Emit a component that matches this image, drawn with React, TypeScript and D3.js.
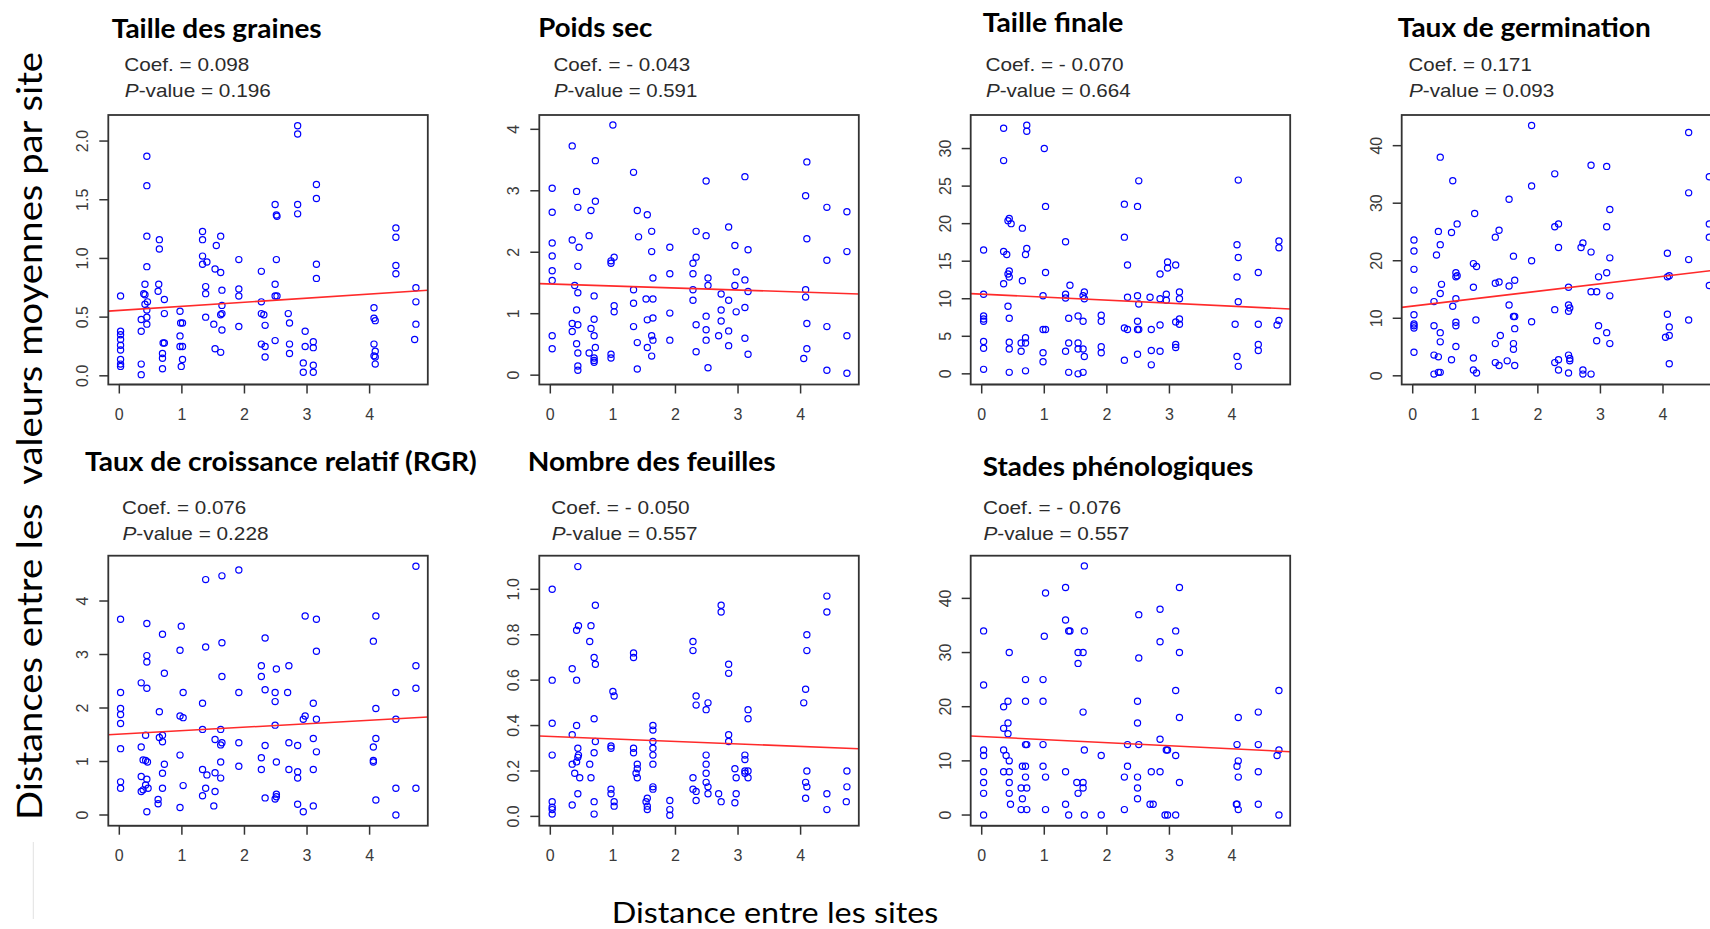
import * as d3 from "d3";

type Pt = [number, number];

// distances entre sites (x) / distances entre valeurs moyennes (y)
const grainesPts: Pt[] = [
  [0.02,0.68],[0.02,0.38],[0.02,0.35],[0.02,0.31],[0.02,0.26],[0.02,0.22],[0.02,0.14],[0.02,0.10],[0.02,0.08],
  [0.35,0.48],[0.35,0.38],[0.35,0.10],[0.35,0.01],
  [0.44,1.87],[0.44,1.62],[0.44,1.19],[0.44,0.93],[0.41,0.78],[0.39,0.70],[0.41,0.69],[0.45,0.63],[0.41,0.61],[0.44,0.56],[0.44,0.50],[0.44,0.44],
  [0.64,1.16],[0.64,1.08],[0.63,0.78],[0.62,0.72],
  [0.72,0.65],[0.72,0.53],[0.70,0.28],[0.72,0.28],[0.69,0.19],[0.69,0.15],[0.69,0.06],
  [0.97,0.55],[0.98,0.45],[1.01,0.45],[0.97,0.34],[0.97,0.25],[1.01,0.25],[1.01,0.14],[0.99,0.08],
  [1.33,1.23],[1.33,1.16],[1.33,1.02],[1.33,0.95],[1.40,0.97],[1.38,0.76],[1.38,0.70],[1.38,0.50],
  [1.55,1.11],[1.53,0.91],[1.51,0.44],[1.53,0.23],
  [1.62,1.19],[1.62,0.88],[1.64,0.73],[1.64,0.60],[1.64,0.53],[1.62,0.52],[1.64,0.39],[1.62,0.20],
  [1.91,0.99],[1.91,0.74],[1.91,0.68],[1.91,0.42],
  [2.27,0.89],[2.27,0.63],[2.27,0.53],[2.31,0.52],[2.33,0.43],[2.27,0.27],[2.33,0.25],[2.33,0.16],
  [2.49,1.46],[2.51,1.37],[2.52,1.36],[2.51,0.99],[2.49,0.78],[2.49,0.68],[2.52,0.68],[2.49,0.30],
  [2.70,0.53],[2.72,0.45],[2.72,0.27],[2.72,0.19],
  [2.85,2.13],[2.85,2.06],[2.85,1.46],[2.85,1.38],
  [2.97,0.38],[2.97,0.25],[2.94,0.11],[2.94,0.03],
  [3.15,1.63],[3.15,1.51],[3.15,0.95],[3.15,0.83],[3.10,0.29],[3.10,0.24],[3.10,0.09],[3.10,0.03],
  [4.07,0.58],[4.07,0.49],[4.09,0.47],[4.07,0.27],[4.09,0.21],[4.07,0.17],[4.09,0.16],[4.09,0.10],
  [4.42,1.26],[4.42,1.18],[4.42,0.94],[4.42,0.87],
  [4.74,0.75],[4.74,0.63],[4.74,0.44],[4.72,0.31],
];

const poidsPts: Pt[] = [
  [0.03,3.04],[0.03,2.65],[0.03,2.15],[0.03,1.94],[0.03,1.70],[0.03,1.54],[0.03,0.64],[0.03,0.43],
  [0.35,3.73],[0.35,2.20],[0.35,0.84],[0.35,0.71],
  [0.42,2.99],[0.44,2.73],[0.46,2.08],[0.44,1.77],[0.39,1.46],[0.44,1.34],[0.42,1.06],[0.44,0.82],[0.42,0.51],[0.44,0.36],[0.44,0.15],[0.44,0.08],
  [0.72,3.49],[0.72,2.83],[0.65,2.68],[0.62,2.27],[0.70,1.29],[0.70,0.91],[0.65,0.76],[0.70,0.64],[0.72,0.45],[0.62,0.36],[0.70,0.28],[0.70,0.24],[0.70,0.21],
  [1.00,4.07],[0.97,1.82],[1.02,1.92],[0.97,1.86],[1.02,1.13],[1.02,1.03],[0.97,0.34],[0.97,0.28],
  [1.33,3.30],[1.39,2.68],[1.41,2.25],[1.33,1.39],[1.33,1.17],[1.33,0.79],[1.39,0.53],[1.39,0.10],
  [1.55,2.61],[1.62,2.34],[1.62,2.01],[1.64,1.58],[1.53,1.24],[1.64,1.24],[1.55,0.90],[1.64,0.93],[1.62,0.64],[1.64,0.57],[1.55,0.45],[1.62,0.31],
  [1.91,2.08],[1.91,1.65],[1.91,1.01],[1.91,0.57],
  [2.33,2.34],[2.33,1.92],[2.28,1.82],[2.28,1.65],[2.28,1.39],[2.28,1.22],[2.33,0.82],[2.33,0.38],
  [2.49,3.16],[2.49,2.27],[2.52,1.58],[2.52,1.46],[2.49,0.96],[2.49,0.74],[2.49,0.57],[2.52,0.12],
  [2.73,1.32],[2.73,1.06],[2.73,0.88],[2.69,0.64],
  [2.85,2.41],[2.85,1.22],[2.85,0.72],[2.85,0.48],
  [2.95,2.11],[2.97,1.68],[2.95,1.46],[2.97,1.03],
  [3.11,3.23],[3.16,2.04],[3.11,1.55],[3.16,1.36],[3.11,1.10],[3.11,0.60],[3.16,0.34],
  [4.10,3.47],[4.08,2.92],[4.10,2.22],[4.08,1.39],[4.08,1.27],[4.10,0.84],[4.10,0.43],[4.05,0.27],
  [4.42,2.73],[4.42,1.87],[4.42,0.79],[4.42,0.08],
  [4.74,2.66],[4.74,2.01],[4.74,0.64],[4.74,0.03],
];

const tailleFinalePts: Pt[] = [
  [0.03,16.5],[0.03,10.6],[0.03,7.7],[0.03,7.3],[0.03,7.0],[0.03,4.3],[0.03,3.4],[0.03,0.6],
  [0.35,32.7],[0.35,28.4],[0.35,16.3],[0.35,12.0],
  [0.40,15.9],[0.44,20.7],[0.42,20.4],[0.47,20.0],[0.44,13.7],[0.42,13.3],[0.44,12.9],[0.42,9.0],[0.44,7.4],[0.44,4.2],[0.44,3.3],[0.44,0.2],
  [0.72,33.1],[0.72,32.3],[0.65,19.4],[0.72,16.7],[0.70,15.9],[0.65,12.4],[0.70,4.8],[0.70,4.1],[0.63,4.1],[0.63,3.0],[0.70,0.4],
  [1.00,30.0],[1.02,22.3],[1.02,13.5],[0.98,10.4],[0.98,5.9],[1.02,5.9],[0.98,2.8],[0.98,1.6],
  [1.34,17.6],[1.41,11.8],[1.34,10.6],[1.34,10.1],[1.39,7.4],[1.39,4.1],[1.34,3.0],[1.39,0.2],
  [1.54,7.7],[1.54,4.1],[1.54,3.3],[1.62,7.0],[1.64,10.9],[1.62,10.4],[1.64,10.0],[1.62,3.3],[1.64,2.3],[1.54,0.0],[1.62,0.2],
  [1.91,7.8],[1.91,7.0],[1.91,3.6],[1.91,2.8],
  [2.28,22.6],[2.28,18.2],[2.33,14.5],[2.33,10.2],[2.28,6.1],[2.33,5.9],[2.28,1.8],
  [2.51,25.7],[2.49,22.3],[2.49,10.4],[2.51,9.3],[2.49,7.0],[2.49,5.9],[2.51,5.9],[2.49,2.6],
  [2.69,10.2],[2.71,5.9],[2.71,3.1],[2.71,1.2],
  [2.85,13.3],[2.85,10.0],[2.85,6.5],[2.85,3.0],
  [2.97,14.9],[2.97,14.1],[2.95,10.6],[2.95,9.8],
  [3.10,14.5],[3.16,10.9],[3.16,10.0],[3.16,7.3],[3.10,6.9],[3.16,6.6],[3.10,3.9],[3.10,3.5],
  [4.10,25.8],[4.08,17.2],[4.10,15.5],[4.08,12.9],[4.10,9.6],[4.05,6.6],[4.08,2.3],[4.10,1.0],
  [4.42,13.5],[4.42,6.6],[4.42,3.9],[4.42,3.1],
  [4.75,17.7],[4.75,16.8],[4.75,7.1],[4.72,6.5],
];

const germinationPts: Pt[] = [
  [0.02,23.6],[0.02,21.7],[0.02,18.5],[0.02,14.9],[0.02,10.6],[0.02,9.0],[0.02,8.7],[0.02,8.3],[0.02,4.1],
  [0.34,12.9],[0.34,8.7],[0.34,3.6],[0.34,0.3],
  [0.44,38.0],[0.41,25.1],[0.44,22.8],[0.38,21.0],[0.46,15.9],[0.44,14.3],[0.44,7.5],[0.44,5.9],[0.41,3.3],[0.41,0.6],[0.44,0.6],
  [0.64,33.9],[0.62,24.9],[0.71,26.4],[0.69,17.9],[0.71,17.4],[0.69,17.2],[0.69,13.4],[0.64,12.1],[0.69,9.3],[0.69,8.7],[0.69,5.1],[0.62,2.8],
  [0.99,28.2],[0.97,19.5],[1.02,19.0],[0.97,15.4],[1.01,9.7],[0.97,3.1],[0.97,1.0],[1.02,0.5],
  [1.38,25.3],[1.32,24.1],[1.32,16.1],[1.38,16.3],[1.40,7.0],[1.32,5.6],[1.32,2.3],[1.38,1.8],
  [1.54,30.7],[1.61,20.8],[1.63,16.6],[1.54,15.6],[1.54,12.3],[1.61,10.3],[1.63,10.3],[1.63,8.2],[1.61,5.6],[1.61,4.6],[1.51,2.6],[1.63,1.8],
  [1.90,43.5],[1.90,33.0],[1.90,20.0],[1.90,9.4],
  [2.27,35.1],[2.27,25.9],[2.33,26.4],[2.33,22.3],[2.27,11.5],[2.27,2.3],[2.33,2.8],[2.33,1.0],
  [2.49,15.4],[2.49,12.3],[2.51,11.8],[2.49,11.2],[2.49,3.6],[2.51,3.0],[2.51,2.6],[2.49,0.5],
  [2.72,23.1],[2.69,22.3],[2.72,1.0],[2.72,0.3],
  [2.85,36.6],[2.85,21.5],[2.85,14.6],[2.85,0.3],
  [2.97,17.2],[2.94,14.6],[2.97,8.7],[2.94,6.1],
  [3.10,36.4],[3.15,28.9],[3.10,25.9],[3.15,20.5],[3.10,17.9],[3.15,13.9],[3.10,7.5],[3.15,5.6],
  [4.07,21.3],[4.10,17.4],[4.07,17.2],[4.07,10.7],[4.10,8.5],[4.04,6.7],[4.10,7.0],[4.10,2.1],
  [4.41,42.3],[4.41,31.8],[4.41,20.2],[4.41,9.7],
  [4.74,34.6],[4.74,26.4],[4.74,24.1],[4.74,15.7],
];

const rgrPts: Pt[] = [
  [0.02,3.66],[0.02,2.29],[0.02,1.99],[0.02,1.88],[0.02,1.71],[0.02,1.24],[0.02,0.62],[0.02,0.50],
  [0.35,2.47],[0.35,1.27],[0.35,0.72],[0.35,0.44],
  [0.44,3.58],[0.44,2.98],[0.44,2.86],[0.44,2.37],[0.42,1.49],[0.38,1.03],[0.42,1.02],[0.45,0.99],[0.44,0.67],[0.42,0.56],[0.46,0.50],[0.38,0.47],[0.44,0.06],
  [0.69,3.38],[0.72,2.65],[0.64,1.93],[0.64,1.45],[0.69,1.49],[0.69,1.37],[0.72,0.95],[0.69,0.78],[0.69,0.50],[0.62,0.29],[0.62,0.21],
  [0.99,3.53],[0.97,3.08],[1.02,2.29],[0.97,1.85],[1.02,1.82],[0.97,1.12],[1.02,0.55],[0.97,0.14],
  [1.38,4.40],[1.38,3.14],[1.33,2.09],[1.33,1.60],[1.33,0.85],[1.40,0.75],[1.38,0.50],[1.33,0.36],
  [1.64,4.47],[1.64,3.22],[1.64,2.59],[1.62,1.60],[1.53,1.41],[1.64,1.35],[1.62,1.31],[1.62,0.99],[1.53,0.79],[1.62,0.69],[1.53,0.44],[1.51,0.17],
  [1.91,4.58],[1.91,2.29],[1.91,1.35],[1.91,0.91],
  [2.33,3.31],[2.27,2.79],[2.27,2.59],[2.33,2.34],[2.33,1.30],[2.27,1.07],[2.27,0.85],[2.33,0.32],
  [2.51,2.73],[2.49,2.29],[2.49,2.12],[2.49,1.68],[2.51,0.99],[2.51,0.39],[2.49,0.30],[2.51,0.34],
  [2.71,2.79],[2.69,2.29],[2.71,1.35],[2.71,0.85],
  [2.85,1.30],[2.85,0.81],[2.85,0.69],[2.85,0.20],
  [2.97,3.72],[2.97,1.85],[2.94,1.79],[2.94,0.06],
  [3.15,3.66],[3.15,3.06],[3.10,2.09],[3.15,1.79],[3.10,1.43],[3.15,1.18],[3.10,0.85],[3.10,0.17],
  [4.10,3.72],[4.06,3.25],[4.10,1.99],[4.10,1.43],[4.06,1.27],[4.06,1.02],[4.06,0.99],[4.10,0.28],
  [4.42,2.29],[4.42,1.79],[4.42,0.50],[4.42,0.00],
  [4.74,4.65],[4.74,2.79],[4.74,2.37],[4.74,0.50],
];

const feuillesPts: Pt[] = [
  [0.03,1.00],[0.03,0.60],[0.03,0.41],[0.03,0.27],[0.03,0.065],[0.03,0.04],[0.03,0.03],[0.03,0.01],
  [0.35,0.65],[0.35,0.36],[0.35,0.23],[0.35,0.05],
  [0.44,1.10],[0.45,0.84],[0.42,0.82],[0.42,0.60],[0.42,0.40],[0.44,0.30],[0.45,0.27],[0.44,0.26],[0.42,0.24],[0.39,0.19],[0.47,0.17],[0.44,0.10],
  [0.72,0.93],[0.65,0.84],[0.63,0.77],[0.70,0.70],[0.72,0.67],[0.70,0.43],[0.72,0.33],[0.70,0.28],[0.63,0.23],[0.65,0.17],[0.70,0.065],[0.70,0.01],
  [1.00,0.55],[1.02,0.53],[0.97,0.31],[0.97,0.30],[0.97,0.12],[0.97,0.10],[1.02,0.065],[1.02,0.045],
  [1.33,0.72],[1.33,0.70],[1.33,0.30],[1.33,0.28],[1.39,0.23],[1.39,0.21],[1.37,0.19],[1.39,0.17],
  [1.64,0.40],[1.64,0.38],[1.64,0.33],[1.64,0.30],[1.64,0.27],[1.64,0.23],[1.64,0.13],[1.64,0.12],[1.55,0.08],[1.53,0.065],[1.55,0.045],[1.55,0.03],
  [1.91,0.07],[1.91,0.03],[1.91,0.005],
  [2.28,0.77],[2.28,0.73],[2.33,0.53],[2.33,0.49],[2.28,0.17],[2.28,0.12],[2.33,0.11],[2.33,0.07],
  [2.52,0.50],[2.49,0.47],[2.49,0.27],[2.49,0.23],[2.49,0.19],[2.49,0.15],[2.52,0.13],[2.52,0.10],
  [2.73,0.93],[2.73,0.90],[2.69,0.10],[2.73,0.065],
  [2.85,0.67],[2.85,0.63],[2.85,0.36],[2.85,0.33],
  [2.95,0.21],[2.97,0.17],[2.97,0.10],[2.95,0.06],
  [3.16,0.47],[3.16,0.43],[3.11,0.27],[3.11,0.25],[3.11,0.20],[3.16,0.20],[3.11,0.19],[3.16,0.17],
  [4.10,0.80],[4.10,0.73],[4.08,0.56],[4.05,0.50],[4.10,0.20],[4.08,0.15],[4.10,0.13],[4.08,0.08],
  [4.42,0.97],[4.42,0.90],[4.42,0.10],[4.42,0.03],
  [4.74,0.20],[4.74,0.13],[4.73,0.065],
];

const phenoPts: Pt[] = [
  [0.03,34],[0.03,24],[0.03,12],[0.03,11],[0.03,8],[0.03,6],[0.03,4],[0.03,0],
  [0.35,20],[0.35,16],[0.35,12],[0.35,8],
  [0.44,30],[0.42,21],[0.42,17],[0.42,15],[0.39,11],[0.44,10],[0.44,8],[0.44,6],[0.44,4],[0.46,2],
  [0.70,25],[0.70,21],[0.70,13],[0.72,13],[0.65,9],[0.70,9],[0.70,7],[0.63,5],[0.72,5],[0.65,3],[0.63,1],[0.72,1],
  [1.02,41],[1.00,33],[0.98,25],[0.98,21],[0.98,13],[0.98,9],[1.02,7],[1.02,1],
  [1.34,42],[1.34,36],[1.39,34],[1.41,34],[1.34,8],[1.34,2],[1.39,0],
  [1.64,46],[1.64,34],[1.54,30],[1.62,30],[1.54,28],[1.62,19],[1.64,12],[1.52,6],[1.62,6],[1.62,5],[1.54,4],[1.64,0],
  [1.91,11],[1.91,0],
  [2.33,13],[2.33,9],[2.28,7],[2.28,1],
  [2.51,37],[2.51,29],[2.49,21],[2.49,17],[2.51,13],[2.49,7],[2.49,5],[2.49,3],
  [2.69,2],[2.74,2],[2.71,8],
  [2.85,38],[2.85,32],[2.85,14],[2.85,8],
  [2.95,12],[2.97,12],[2.93,0],[2.97,0],
  [3.16,42],[3.10,34],[3.16,30],[3.10,23],[3.16,18],[3.10,11],[3.16,6],[3.10,0],
  [4.10,18],[4.08,13],[4.10,10],[4.08,9],[4.10,7],[4.07,2],[4.08,2],[4.10,1],
  [4.42,19],[4.42,13],[4.42,8],[4.42,2],
  [4.75,23],[4.75,12],[4.72,11],[4.75,0],
];

const series = [grainesPts, poidsPts, tailleFinalePts, germinationPts, rgrPts, feuillesPts, phenoPts];

const titres = [
  "Taille des graines",
  "Poids sec",
  "Taille finale",
  "Taux de germination",
  "Taux de croissance relatif (RGR)",
  "Nombre des feuilles",
  "Stades phénologiques",
];
const coefs = ["0.098", "- 0.043", "- 0.070", "0.171", "0.076", "- 0.050", "- 0.076"];
const pValues = ["0.196", "0.591", "0.664", "0.093", "0.228", "0.557", "0.557"];

// droite de régression : [ordonnée à l'origine, pente]
const droites: [number, number][] = [
  [0.557, 0.035],
  [1.484, -0.033],
  [10.61, -0.4],
  [12.12, 1.29],
  [1.511, 0.065],
  [0.352, -0.011],
  [14.5, -0.57],
];

const xDomaine: [number, number] = [-0.176, 4.93];
const xTicks = [0, 1, 2, 3, 4];
const yDomaines: [number, number][] = [
  [-0.074, 2.222],
  [-0.152, 4.233],
  [-1.42, 34.47],
  [-1.51, 45.33],
  [-0.2, 4.847],
  [-0.041, 1.148],
  [-1.97, 47.88],
];
const yTicks = [
  [0, 0.5, 1, 1.5, 2],
  [0, 1, 2, 3, 4],
  [0, 5, 10, 15, 20, 25, 30],
  [0, 10, 20, 30, 40],
  [0, 1, 2, 3, 4],
  [0, 0.2, 0.4, 0.6, 0.8, 1],
  [0, 10, 20, 30, 40],
];
const yFormats = [".1f", "d", "d", "d", "d", ".1f", "d"];

// mise en page (pixels)
const boites = [
  { x: 108.3, y: 115, w: 319.5, h: 269.5 },
  { x: 539.3, y: 115, w: 319.5, h: 269.5 },
  { x: 970.7, y: 115, w: 319.5, h: 269.5 },
  { x: 1401.7, y: 115, w: 319.5, h: 269.5 },
  { x: 108.3, y: 555.7, w: 319.5, h: 270 },
  { x: 539.3, y: 555.7, w: 319.5, h: 270 },
  { x: 970.7, y: 555.7, w: 319.5, h: 270 },
];
const titrePos = [
  { x: 111.7, y: 37.7, w: 210 },
  { x: 538.3, y: 37.3, w: 114 },
  { x: 982.7, y: 32.3, w: 140.7 },
  { x: 1397.7, y: 37.3, w: 253 },
  { x: 85, y: 470.7, w: 391.7 },
  { x: 527.7, y: 470.7, w: 248 },
  { x: 982.7, y: 475.7, w: 270.7 },
];
const statPos = [
  { x: 124.3, y: 71, wc: 125, wp: 146 },
  { x: 553.5, y: 71, wc: 136.7, wp: 143.3 },
  { x: 985.5, y: 71, wc: 138, wp: 144.7 },
  { x: 1408.5, y: 71, wc: 123.3, wp: 145.3 },
  { x: 122, y: 514, wc: 124.3, wp: 146 },
  { x: 551.3, y: 514, wc: 138.3, wp: 145.7 },
  { x: 983, y: 514, wc: 138, wp: 145.7 },
];

const AXE = "#333333";
const POLICE_R = "'Liberation Sans', Arial, sans-serif";

function Panneau({ i }: { i: number }) {
  const b = boites[i];
  const x = d3.scaleLinear().domain(xDomaine).range([b.x, b.x + b.w]);
  const y = d3.scaleLinear().domain(yDomaines[i]).range([b.y + b.h, b.y]);
  const fmt = d3.format(yFormats[i]);
  const [a, pente] = droites[i];
  const ligne = d3
    .line<number>()
    .x((d) => x(d))
    .y((d) => y(a + pente * d));
  const bas = b.y + b.h;
  const t = titrePos[i];
  const s = statPos[i];

  return (
    <g>
      {/* titre */}
      <text
        x={t.x}
        y={t.y}
        textLength={t.w}
        lengthAdjust="spacingAndGlyphs"
        fontFamily="Lato, 'Noto Sans', sans-serif"
        fontWeight={700}
        fontSize={26}
        fill="#000"
      >
        {titres[i]}
      </text>
      <text
        x={s.x}
        y={s.y}
        textLength={s.wc}
        lengthAdjust="spacingAndGlyphs"
        fontFamily={POLICE_R}
        fontSize={19}
        fill="#2b2b2b"
      >
        {`Coef. = ${coefs[i]}`}
      </text>
      <text
        x={s.x + 0.5}
        y={s.y + 25.7}
        textLength={s.wp}
        lengthAdjust="spacingAndGlyphs"
        fontFamily={POLICE_R}
        fontSize={19}
        fill="#2b2b2b"
      >
        <tspan fontStyle="italic">P</tspan>
        {`-value = ${pValues[i]}`}
      </text>

      {/* axe x */}
      <line x1={x(xTicks[0])} x2={x(xTicks[xTicks.length - 1])} y1={bas} y2={bas} stroke={AXE} strokeWidth={1.5} />
      {xTicks.map((v) => (
        <g key={`x${v}`}>
          <line x1={x(v)} x2={x(v)} y1={bas} y2={bas + 9} stroke={AXE} strokeWidth={1.5} />
          <text
            x={x(v)}
            y={bas + 35}
            textAnchor="middle"
            fontFamily={POLICE_R}
            fontSize={16}
            fill="#3a3a3a"
          >
            {v}
          </text>
        </g>
      ))}

      {/* axe y */}
      {yTicks[i].map((v) => (
        <g key={`y${v}`}>
          <line x1={b.x - 9} x2={b.x} y1={y(v)} y2={y(v)} stroke={AXE} strokeWidth={1.5} />
          <text
            x={b.x - 20}
            y={y(v)}
            textAnchor="middle"
            transform={`rotate(-90, ${b.x - 20}, ${y(v)})`}
            fontFamily={POLICE_R}
            fontSize={16}
            fill="#3a3a3a"
          >
            {fmt(v)}
          </text>
        </g>
      ))}

      {/* points */}
      {series[i].map(([px, py], k) => (
        <circle
          key={k}
          cx={x(px)}
          cy={y(py)}
          r={3.1}
          fill="none"
          stroke="#0000ff"
          strokeWidth={1.2}
        />
      ))}

      {/* régression */}
      <path d={ligne(xDomaine) || ""} fill="none" stroke="#ff2a2a" strokeWidth={1.6} />

      {/* cadre */}
      <rect x={b.x} y={b.y} width={b.w} height={b.h} fill="none" stroke={AXE} strokeWidth={1.8} />
    </g>
  );
}

export default function App() {
  return (
    <svg
      width={1710}
      height={929}
      style={{ position: "fixed", left: 0, top: 0, background: "#fff" }}
    >
      <rect width={1710} height={929} fill="#fff" />
      {series.map((_, i) => (
        <Panneau key={i} i={i} />
      ))}

      {/* titre axe y */}
      <text
        x={42}
        y={436}
        textAnchor="middle"
        transform="rotate(-90, 42, 436)"
        textLength={768}
        lengthAdjust="spacingAndGlyphs"
        fontFamily="Lato, 'Noto Sans', sans-serif"
        fontSize={35}
        fill="#000"
        style={{ whiteSpace: "pre" }}
      >
        {"Distances entre les  valeurs moyennes par site"}
      </text>

      {/* titre axe x */}
      <text
        x={611.7}
        y={923.3}
        textLength={326.7}
        lengthAdjust="spacingAndGlyphs"
        fontFamily="Lato, 'Noto Sans', sans-serif"
        fontSize={28}
        fill="#000"
      >
        Distance entre les sites
      </text>

      <line x1={33.3} x2={33.3} y1={842} y2={919} stroke="#e2e2e2" strokeWidth={1} />
    </svg>
  );
}
